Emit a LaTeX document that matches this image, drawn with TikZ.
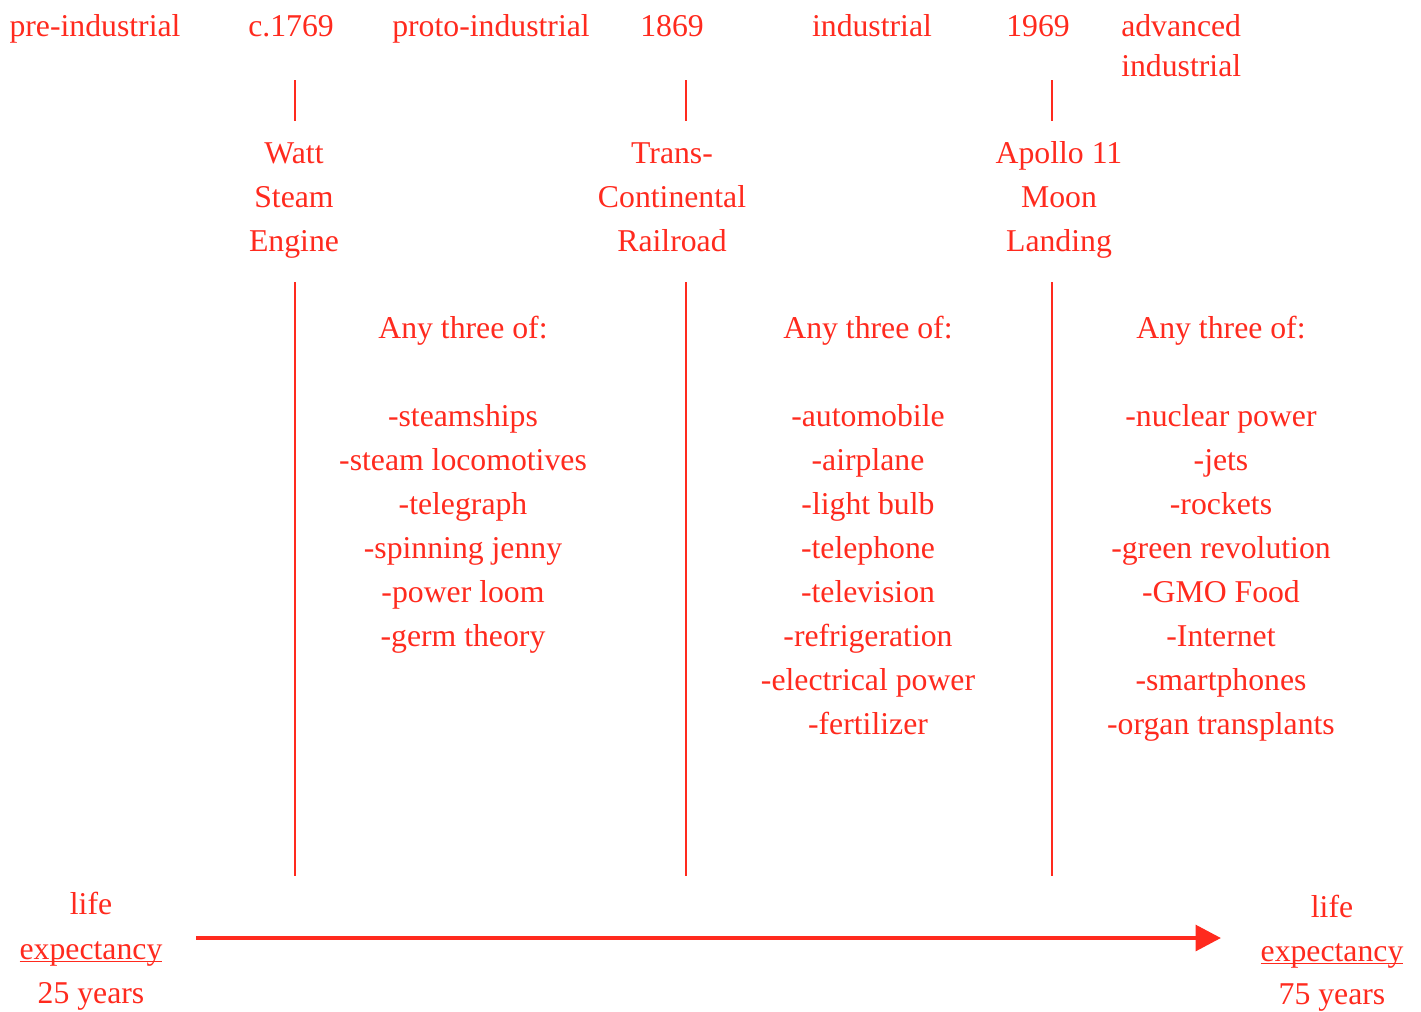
\documentclass[tikz,border=0pt]{standalone}
\usepackage{fontspec}
\setmainfont{Liberation Serif}
\usetikzlibrary{arrows.meta}
\definecolor{tred}{RGB}{255,42,30}
\newcommand\myul[1]{\setbox0\hbox{#1}\rlap{\rule[-2pt]{\wd0}{0.8pt}}\box0}
\tikzset{
  lbl/.style={text=tred, font=\fontsize{23.8}{33}\selectfont, inner sep=0pt, align=center},
  sepline/.style={draw=tred, line width=1.6pt},
  timeline/.style={draw=tred, line width=3.5pt, -{Triangle[length=19pt,width=19pt]}}
}
\begin{document}
\begin{tikzpicture}[x=0.75pt,y=-0.75pt]
\useasboundingbox (0,0) rectangle (1421,1011);
% top row
\node[lbl,anchor=base] (pre) at (95,36) {pre-industrial};
\node[lbl,anchor=base] (y1769) at (291,36) {c.1769};
\node[lbl,anchor=base] (proto) at (491,36) {proto-industrial};
\node[lbl,anchor=base] (y1869) at (672,36) {1869};
\node[lbl,anchor=base] (ind) at (872,36) {industrial};
\node[lbl,anchor=base] (y1969) at (1038,36) {1969};
\node[lbl,anchor=north west,align=left] (adv) at (1121,14) {advanced\\[-3pt]industrial};
% ticks
\coordinate (t1a) at (295,80); \coordinate (t1b) at (295,121);
\coordinate (t2a) at (686,80); \coordinate (t2b) at (686,121);
\coordinate (t3a) at (1052,80); \coordinate (t3b) at (1052,121);
\draw[sepline] (t1a) -- (t1b);
\draw[sepline] (t2a) -- (t2b);
\draw[sepline] (t3a) -- (t3b);
% events
\node[lbl,anchor=north] (watt) at (294,142) {Watt\\Steam\\Engine};
\node[lbl,anchor=north] (rail) at (672,142) {Trans-\\Continental\\Railroad};
\node[lbl,anchor=north] (apollo) at (1059,141) {Apollo 11\\Moon\\Landing};
% long lines
\coordinate (l1a) at (295,282); \coordinate (l1b) at (295,876);
\coordinate (l2a) at (686,282); \coordinate (l2b) at (686,876);
\coordinate (l3a) at (1052,282); \coordinate (l3b) at (1052,876);
\draw[sepline] (l1a) -- (l1b);
\draw[sepline] (l2a) -- (l2b);
\draw[sepline] (l3a) -- (l3b);
% lists
\node[lbl,anchor=north] (list1) at (463,316) {Any three of:\\[33pt]-steamships\\-steam locomotives\\-telegraph\\-spinning jenny\\-power loom\\-germ theory};
\node[lbl,anchor=north] (list2) at (868,316) {Any three of:\\[33pt]-automobile\\-airplane\\-light bulb\\-telephone\\-television\\-refrigeration\\-electrical power\\-fertilizer};
\node[lbl,anchor=north] (list3) at (1221,316) {Any three of:\\[33pt]-nuclear power\\-jets\\-rockets\\-green revolution\\-GMO Food\\-Internet\\-smartphones\\-organ transplants};
% life expectancy
\node[lbl,anchor=north] (le25) at (91,892) {life\\[0.5pt]\myul{expectancy}\\[0.5pt]25 years};
\node[lbl,anchor=north] (le75) at (1332,895) {life\\\myul{expectancy}\\[-1pt]75 years};
\coordinate (as) at (196,938);
\coordinate (ae) at (1221,938);
\draw[timeline] (as) -- (ae);
\end{tikzpicture}
\end{document}
